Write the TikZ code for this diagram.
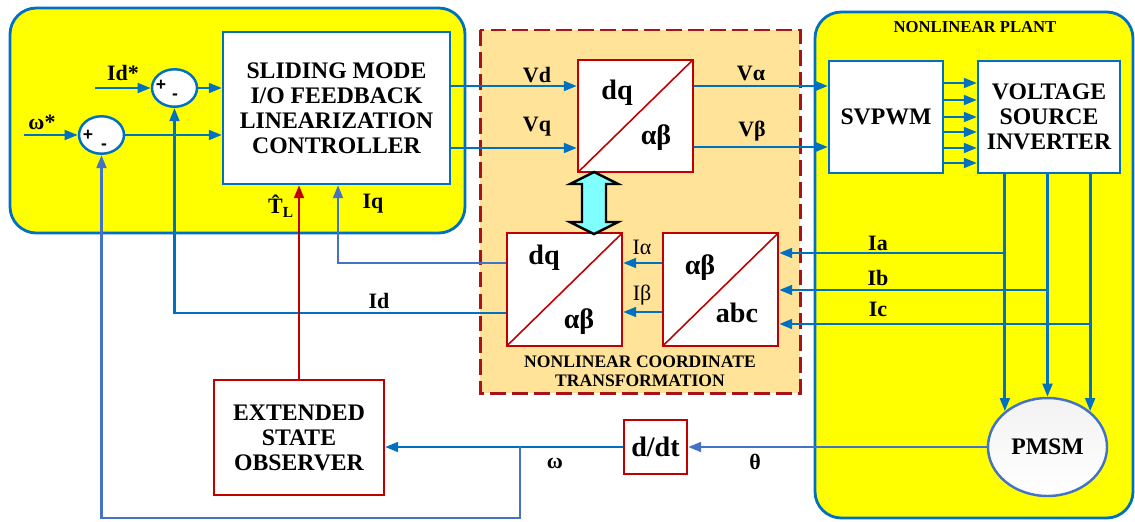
\documentclass[tikz,border=0pt]{standalone}
\usepackage{fontspec}
\setmainfont{Liberation Serif}
\newfontfamily\signfont{Liberation Sans}
\usepackage{xcolor}
\definecolor{FlowBlue}{HTML}{0070C0}
\definecolor{SoftBlue}{HTML}{4472C4}
\definecolor{DarkRed}{HTML}{C00000}
\definecolor{DashRed}{HTML}{A8121B}
\definecolor{PlantYellow}{HTML}{FFFF00}
\definecolor{SoftOrange}{HTML}{FFE399}
\definecolor{LinkCyan}{HTML}{80FFFF}
\usepackage{tikz}
\usetikzlibrary{arrows.meta,positioning,shapes.geometric,calc}

\begin{document}
\begin{tikzpicture}[
  x=0.02cm, y=-0.02cm,
  box/.style={draw=FlowBlue,fill=white,line width=1.2pt,align=center,inner sep=0pt,font=\bfseries\fontsize{13.5}{14.2}\selectfont},
  redbox/.style={box,draw=DarkRed},
  tbox/.style={draw=DarkRed,fill=white,line width=1.2pt,minimum width=2.3cm,minimum height=2.25cm,inner sep=0pt,
    path picture={\draw[DarkRed,line width=0.9pt] (path picture bounding box.south west) -- (path picture bounding box.north east);}},
  sum/.style={ellipse,draw=FlowBlue,fill=white,line width=1.4pt,minimum width=0.9cm,minimum height=0.75cm,inner sep=0pt},
  frame/.style={draw=FlowBlue,fill=PlantYellow,line width=1.6pt,rounded corners=15pt},
  lbl/.style={font=\bfseries\fontsize{12.5}{14}\selectfont,inner sep=0pt},
  thin/.style={font=\fontsize{12.5}{14}\selectfont,inner sep=0pt},
  big/.style={font=\bfseries\fontsize{16}{18}\selectfont,inner sep=0pt},
  small/.style={font=\bfseries\fontsize{10}{10.8}\selectfont,align=center,inner sep=0pt},
  sign/.style={font=\signfont\bfseries\fontsize{10}{10}\selectfont,inner sep=0pt},
  flow/.style={-{Triangle[length=7.5pt,width=5.5pt]},draw=FlowBlue,line width=1.6pt},
  fb/.style={flow,draw=SoftBlue}
]
  \useasboundingbox (0,0) rectangle (1135,521);
  \path[frame] (10,8) rectangle (465,233);
  \path[draw=DashRed,fill=SoftOrange,line width=1.7pt,dash pattern=on 9pt off 3.5pt] (480,30) rectangle (800,393);
  \path[frame] (815,12) rectangle (1133,518);

  \node[box,minimum width=4.54cm,minimum height=3.04cm] (ctrl) at (336.5,108) {SLIDING MODE\\I/O FEEDBACK\\LINEARIZATION\\CONTROLLER};
  \node[sum] (sumd) at (174.5,88) {};
  \node[sum] (sumw) at (101.5,135) {};
  \node[tbox] (dqa) at (635.5,116) {};
  \node[tbox] (dqb) at (564.5,289.5) {};
  \node[tbox] (abc) at (720.5,289.5) {};
  \node[box,minimum width=2.28cm,minimum height=2.24cm] (svpwm) at (886,117) {SVPWM};
  \node[box,minimum width=2.84cm,minimum height=2.24cm] (vsi) at (1049,117) {VOLTAGE\\SOURCE\\INVERTER};
  \node[ellipse,draw=SoftBlue,line width=1.4pt,top color=gray!10,bottom color=white,minimum width=2.3cm,minimum height=1.96cm,
    font=\bfseries\fontsize{13.5}{14.2}\selectfont] (pmsm) at (1047.5,447) {PMSM};
  \node[redbox,minimum width=3.4cm,minimum height=2.3cm] (eso) at (299,437.5) {EXTENDED\\STATE\\OBSERVER};
  \node[redbox,minimum width=1.26cm,minimum height=1.08cm,font=\bfseries\fontsize{16}{18}\selectfont] (ddt) at (655.5,447) {d/dt};

  \coordinate (idref) at (95,88);
  \coordinate (wref) at (24,135);
  \draw[flow] (idref) -- (sumd);
  \draw[flow] (wref) -- (sumw);
  \draw[flow] (sumd) -- (sumd -| ctrl.west);
  \draw[flow] (sumw) -- (sumw -| ctrl.west);
  \draw[flow] (ctrl.east |- 0,86) -- (dqa.west |- 0,86);
  \draw[flow] (ctrl.east |- 0,148) -- (dqa.west |- 0,148);
  \draw[flow] (dqa.east |- 0,86) -- (svpwm.west |- 0,86);
  \draw[flow] (dqa.east |- 0,147) -- (svpwm.west |- 0,147);
  \foreach \y in {83,100,117,132,148,163}
    \draw[flow] (svpwm.east |- 0,\y) -- (vsi.west |- 0,\y);
  \draw[flow] (vsi.south -| pmsm.140) -- (pmsm.140);
  \draw[flow] (vsi.south -| pmsm.north) -- (pmsm.north);
  \draw[flow] (vsi.south -| pmsm.40) -- (pmsm.40);
  \draw[flow] (pmsm.140 |- 0,253) -- (abc.east |- 0,253);
  \draw[flow] (pmsm.north |- 0,290) -- (abc.east |- 0,290);
  \draw[flow] (pmsm.40 |- 0,324) -- (abc.east |- 0,324);
  \draw[flow] (abc.west |- 0,263) -- (dqb.east |- 0,263);
  \draw[flow] (abc.west |- 0,312) -- (dqb.east |- 0,312);
  \draw[fb] (dqb.west |- 0,263) -| (ctrl.south -| 338,0);
  \draw[flow] (dqb.west |- 0,313) -| (sumd.south);
  \draw[flow,draw=DarkRed] (eso.north) -- (eso.north |- ctrl.south);
  \draw[fb] (pmsm.west) -- (ddt.east);
  \draw[flow] (ddt.west) -- (eso.east |- ddt.west);
  \draw[fb] (ddt.west -| 520,0) -- (520,518) -| (sumw.south);
  \draw[black,fill=LinkCyan,line width=1.4pt,line join=miter]
    (594,172) -- (618,184) -- (606,184) -- (606,222) -- (618,222) -- (594,234)
    -- (570,222) -- (582,222) -- (582,184) -- (570,184) -- cycle;

  \node[sign] (sdp) at (161,85) {+};
  \node[sign] (sdm) at (175,97) {-};
  \node[sign] (swp) at (88,135) {+};
  \node[sign] (swm) at (104,147) {-};
  \node[lbl] (lidref) at (123,73) {Id*};
  \node[lbl] (lwref) at (42,122) {ω*};
  \node[lbl] (lvd) at (537,75) {Vd};
  \node[lbl] (lvq) at (537,127) {Vq};
  \node[lbl] (lva) at (751,73) {Vα};
  \node[lbl] (lvb) at (752,131) {Vβ};
  \node[big] (dqatop) at (617,93) {dq};
  \node[big] (dqabot) at (656,138) {αβ};
  \node[big] (dqbtop) at (544,258) {dq};
  \node[big] (dqbbot) at (579,322) {αβ};
  \node[big] (abctop) at (700,268) {αβ};
  \node[big] (abcbot) at (737,313) {abc};
  \node[thin] (lia) at (642,247) {Iα};
  \node[thin] (lib) at (642,295) {Iβ};
  \node[small] (lnct) at (640,371.5) {NONLINEAR COORDINATE\\TRANSFORMATION};
  \node[small,font=\bfseries\fontsize{9.5}{10}\selectfont] (lplant) at (975,27) {NONLINEAR PLANT};
  \node[lbl] (ltl) at (281,206) {\^{T}\textsubscript{L}};
  \node[lbl] (liq) at (373,204) {Iq};
  \node[lbl] (lid) at (379,301) {Id};
  \node[lbl] (lia3) at (878,243) {Ia};
  \node[lbl] (lib3) at (878,278) {Ib};
  \node[lbl] (lic3) at (878,309) {Ic};
  \node[lbl] (lw) at (555,463) {ω};
  \node[lbl] (lth) at (755,462) {θ};
\end{tikzpicture}
\end{document}
